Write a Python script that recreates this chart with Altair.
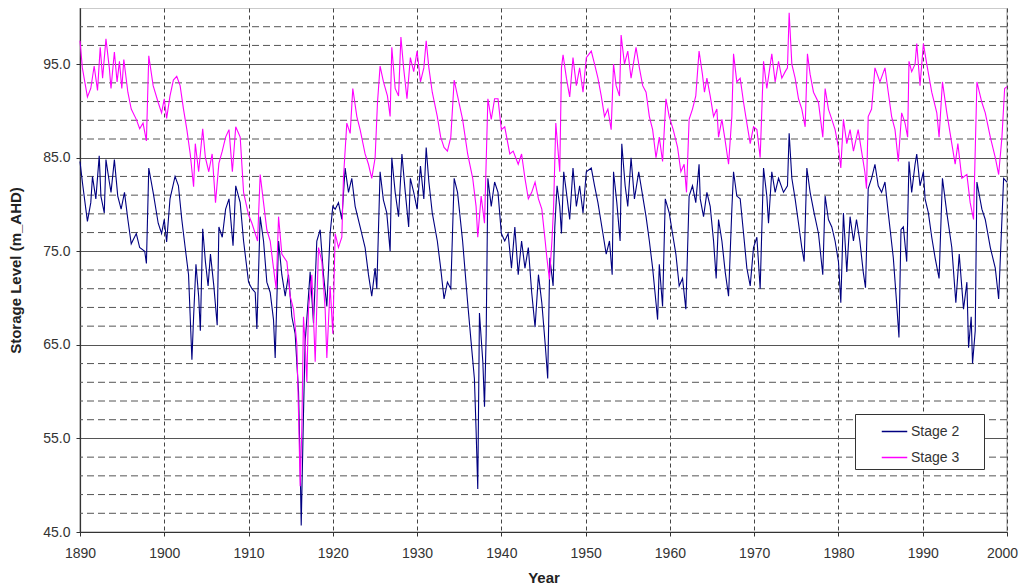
import altair as alt
import pandas as pd

# ---- data ----
s2_year = [1890.0, 1890.28, 1890.88, 1891.28, 1891.48, 1891.88, 1892.28, 1892.48, 1892.88, 1893.08,
           1893.48, 1893.68, 1894.08, 1894.48, 1894.88, 1895.28, 1895.68, 1896.08, 1896.68, 1897.08,
           1897.68, 1897.88, 1898.16, 1898.68, 1899.28, 1899.68, 1900.0, 1900.28, 1900.68, 1901.28,
           1901.68, 1902.08, 1902.48, 1902.88, 1903.28, 1903.48, 1903.76, 1904.08, 1904.28, 1904.56,
           1904.88, 1905.2, 1905.48, 1905.88, 1906.28, 1906.48, 1906.88, 1907.28, 1907.68, 1908.16,
           1908.48, 1909.01, 1909.41, 1910.0, 1910.4, 1910.79, 1910.99, 1911.38, 1911.78, 1912.17,
           1912.57, 1912.96, 1913.16, 1913.56, 1913.95, 1914.35, 1914.74, 1915.14, 1915.53, 1915.93,
           1916.13, 1916.25, 1916.52, 1916.72, 1917.0, 1917.31, 1917.71, 1918.1, 1918.5, 1918.89,
           1919.29, 1919.68, 1920.0, 1920.28, 1920.67, 1921.07, 1921.46, 1921.86, 1922.25, 1922.65,
           1923.24, 1923.83, 1924.23, 1924.62, 1925.02, 1925.22, 1925.61, 1926.0, 1926.4, 1926.8,
           1927.0, 1927.4, 1927.8, 1928.2, 1928.6, 1929.0, 1929.2, 1929.6, 1930.0, 1930.4,
           1930.8, 1931.08, 1931.4, 1931.8, 1932.4, 1932.8, 1933.2, 1933.6, 1934.0, 1934.4,
           1934.8, 1935.4, 1936.0, 1936.4, 1936.8, 1937.0, 1937.2, 1937.4, 1937.8, 1938.0,
           1938.2, 1938.4, 1938.8, 1939.2, 1939.6, 1940.0, 1940.4, 1940.8, 1941.2, 1941.6,
           1942.0, 1942.4, 1942.8, 1943.2, 1943.6, 1944.0, 1944.4, 1944.8, 1945.2, 1945.5,
           1945.75, 1946.14, 1946.34, 1946.61, 1946.93, 1947.13, 1947.4, 1947.72, 1948.11, 1948.5,
           1948.9, 1949.29, 1949.69, 1950.08, 1950.67, 1951.06, 1951.46, 1952.05, 1952.44, 1952.83,
           1953.15, 1953.31, 1953.7, 1954.09, 1954.29, 1954.69, 1955.0, 1955.39, 1955.79, 1956.3,
           1956.77, 1957.17, 1957.56, 1957.95, 1958.35, 1958.54, 1958.74, 1959.13, 1959.45, 1959.92,
           1960.31, 1960.71, 1961.1, 1961.5, 1961.89, 1962.28, 1962.68, 1963.07, 1963.46, 1963.6,
           1963.99, 1964.39, 1964.78, 1965.18, 1965.49, 1965.77, 1966.17, 1966.56, 1966.96, 1967.35,
           1967.55, 1967.94, 1968.34, 1968.74, 1969.13, 1969.53, 1969.92, 1970.32, 1970.71, 1971.11,
           1971.5, 1971.7, 1972.09, 1972.49, 1972.89, 1973.48, 1973.95, 1974.15, 1974.47, 1974.86,
           1975.26, 1975.65, 1975.93, 1976.25, 1976.64, 1977.11, 1977.63, 1978.14, 1978.42, 1978.81,
           1979.21, 1979.6, 1980.0, 1980.28, 1980.59, 1980.99, 1981.38, 1981.78, 1982.14, 1982.54,
           1982.94, 1983.21, 1983.53, 1983.93, 1984.33, 1984.72, 1985.12, 1985.52, 1985.91, 1986.51,
           1986.9, 1987.18, 1987.42, 1987.7, 1988.1, 1988.37, 1988.69, 1989.09, 1989.29, 1989.68,
           1990.08, 1990.28, 1990.67, 1991.07, 1991.47, 1991.94, 1992.34, 1992.86, 1993.45, 1993.93,
           1994.33, 1994.84, 1995.24, 1995.44, 1995.75, 1995.91, 1996.23, 1996.43, 1997.02, 1997.42,
           1998.02, 1998.61, 1999.01, 1999.33, 1999.6, 2000.0]
s2_level = [84.6, 82.4, 78.2, 80.2, 83.0, 80.6, 85.2, 80.9, 79.1, 84.8,
            82.4, 81.3, 84.8, 80.9, 79.5, 81.3, 78.4, 75.8, 76.9, 75.4,
            75.0, 73.7, 83.9, 81.3, 78.0, 76.9, 78.4, 76.0, 80.6, 83.0,
            82.0, 78.4, 75.4, 72.5, 63.4, 68.0, 73.6, 70.2, 66.5, 77.4,
            73.9, 71.3, 74.7, 71.3, 67.1, 77.6, 76.5, 79.5, 80.6, 75.6,
            82.0, 80.2, 76.1, 71.7, 71.0, 70.6, 66.7, 78.7, 76.1, 71.7,
            70.6, 67.7, 63.6, 76.1, 72.5, 70.2, 72.5, 68.0, 66.2, 60.0,
            51.9, 45.7, 57.7, 65.4, 68.8, 72.8, 67.3, 76.1, 77.3, 72.5,
            69.1, 76.9, 79.8, 79.5, 80.2, 78.4, 83.9, 81.3, 82.8, 79.8,
            77.6, 75.4, 72.5, 70.2, 73.2, 71.0, 83.5, 80.5, 79.1, 75.0,
            85.0, 81.3, 78.7, 85.4, 81.3, 77.6, 82.8, 81.3, 79.5, 84.1,
            80.6, 86.1, 82.4, 79.1, 76.1, 73.2, 69.9, 71.7, 71.0, 82.8,
            81.3, 76.1, 69.5, 65.4, 61.4, 55.9, 49.6, 68.4, 63.2, 58.4,
            66.2, 82.8, 79.8, 82.4, 81.3, 76.9, 76.1, 76.9, 73.2, 77.6,
            72.5, 76.1, 73.2, 75.4, 70.6, 66.9, 72.5, 69.5, 65.1, 61.4,
            74.3, 71.3, 77.6, 82.0, 79.8, 76.9, 83.5, 81.3, 78.4, 83.9,
            79.8, 82.0, 79.1, 83.5, 83.9, 82.0, 80.2, 76.9, 74.7, 76.1,
            72.5, 83.5, 80.2, 76.1, 86.5, 82.0, 79.8, 85.0, 80.6, 83.5,
            80.9, 78.7, 76.1, 73.2, 69.5, 67.7, 73.6, 69.1, 80.6, 79.1,
            76.9, 74.7, 71.3, 72.1, 68.8, 80.9, 82.0, 80.2, 84.3, 80.6,
            78.7, 81.3, 79.8, 76.1, 72.1, 78.4, 76.1, 72.8, 70.2, 79.5,
            83.5, 80.9, 80.6, 76.9, 73.2, 71.3, 75.4, 76.5, 71.0, 83.9,
            80.9, 78.0, 83.5, 81.3, 82.8, 81.3, 82.0, 87.6, 82.8, 80.6,
            78.0, 75.4, 73.9, 83.9, 81.3, 79.1, 76.9, 72.5, 80.9, 78.4,
            77.6, 76.1, 73.9, 69.5, 79.1, 72.8, 78.7, 76.1, 78.4, 76.1,
            72.8, 71.1, 81.7, 82.8, 84.3, 82.0, 81.3, 82.4, 79.1, 74.3,
            69.5, 65.8, 77.3, 77.6, 73.9, 84.6, 81.3, 84.3, 85.4, 82.0,
            83.5, 80.6, 79.1, 76.5, 74.3, 72.1, 82.8, 79.1, 75.4, 69.5,
            74.7, 68.8, 71.7, 64.7, 68.0, 63.0, 66.5, 82.4, 79.5, 78.4,
            75.4, 73.2, 69.9, 76.9, 82.8, 82.4]

s3_year = [1890.0, 1890.28, 1890.88, 1891.28, 1891.68, 1892.08, 1892.4, 1892.68, 1893.08, 1893.48,
           1893.68, 1894.08, 1894.4, 1894.68, 1894.96, 1895.2, 1895.68, 1896.08, 1896.68, 1897.08,
           1897.48, 1897.88, 1898.16, 1898.68, 1899.28, 1899.68, 1900.0, 1900.28, 1900.68, 1901.08,
           1901.48, 1901.88, 1902.28, 1902.68, 1903.08, 1903.48, 1903.68, 1904.08, 1904.56, 1904.88,
           1905.28, 1905.68, 1906.08, 1906.48, 1906.88, 1907.28, 1907.68, 1908.08, 1908.48, 1909.01,
           1909.41, 1910.0, 1910.4, 1910.79, 1911.07, 1911.38, 1911.78, 1912.17, 1912.57, 1912.96,
           1913.28, 1913.56, 1913.95, 1914.55, 1914.94, 1915.34, 1915.73, 1915.93, 1916.13, 1916.32,
           1916.52, 1916.72, 1916.92, 1917.11, 1917.51, 1917.91, 1918.3, 1918.7, 1919.09, 1919.29,
           1919.68, 1920.0, 1920.28, 1920.67, 1921.07, 1921.26, 1921.66, 1922.06, 1922.37, 1922.85,
           1923.24, 1923.83, 1924.23, 1924.62, 1925.02, 1925.3, 1925.61, 1926.01, 1926.48, 1926.8,
           1927.0, 1927.4, 1927.8, 1928.08, 1928.4, 1928.8, 1929.2, 1929.6, 1930.0, 1930.4,
           1930.8, 1931.08, 1931.4, 1931.8, 1932.4, 1932.8, 1933.2, 1933.6, 1934.0, 1934.4,
           1934.8, 1935.4, 1936.0, 1936.6, 1937.0, 1937.2, 1937.6, 1938.0, 1938.4, 1938.8,
           1939.2, 1939.6, 1940.0, 1940.4, 1941.0, 1941.4, 1942.0, 1942.4, 1942.8, 1943.2,
           1943.6, 1944.0, 1944.4, 1944.8, 1945.2, 1945.4, 1945.7, 1946.0, 1946.2, 1946.46,
           1946.73, 1946.93, 1947.13, 1947.32, 1947.72, 1948.11, 1948.5, 1948.9, 1949.29, 1949.69,
           1950.08, 1950.67, 1951.06, 1951.46, 1951.85, 1952.24, 1952.64, 1953.03, 1953.31, 1953.62,
           1954.02, 1954.21, 1954.61, 1955.0, 1955.39, 1955.98, 1956.38, 1956.77, 1957.17, 1957.56,
           1957.95, 1958.35, 1958.74, 1959.13, 1959.53, 1959.92, 1960.39, 1960.91, 1961.3, 1961.69,
           1961.97, 1962.28, 1962.68, 1963.07, 1963.46, 1963.86, 1964.1, 1964.39, 1964.78, 1965.18,
           1965.57, 1965.77, 1966.17, 1966.56, 1966.96, 1967.35, 1967.55, 1967.94, 1968.34, 1968.74,
           1969.13, 1969.53, 1969.92, 1970.32, 1970.71, 1971.11, 1971.5, 1972.09, 1972.49, 1972.89,
           1973.28, 1973.68, 1973.95, 1974.15, 1974.47, 1974.86, 1975.26, 1975.65, 1976.05, 1976.32,
           1976.64, 1977.04, 1977.63, 1978.14, 1978.42, 1978.81, 1979.21, 1979.6, 1980.0, 1980.28,
           1980.59, 1980.99, 1981.38, 1981.78, 1982.34, 1982.74, 1983.13, 1983.33, 1983.53, 1983.93,
           1984.33, 1984.92, 1985.52, 1985.91, 1986.31, 1986.71, 1987.1, 1987.5, 1987.9, 1988.21,
           1988.37, 1988.69, 1989.09, 1989.29, 1989.68, 1990.08, 1990.48, 1991.07, 1991.67, 1991.94,
           1992.34, 1992.86, 1993.45, 1993.85, 1994.17, 1994.64, 1995.24, 1995.63, 1996.03, 1996.43,
           1997.02, 1997.42, 1998.02, 1998.61, 1999.01, 1999.4, 1999.72, 2000.0]
s3_level = [97.5, 94.6, 91.5, 92.4, 94.8, 92.2, 96.8, 93.5, 97.7, 94.6,
            92.4, 96.3, 93.1, 95.3, 92.4, 95.5, 92.0, 90.2, 89.1, 88.1,
            88.7, 86.8, 95.9, 92.7, 90.9, 89.8, 91.3, 89.2, 91.6, 93.3,
            93.7, 92.7, 90.2, 88.0, 85.4, 81.9, 86.5, 83.5, 88.1, 85.0,
            83.5, 85.4, 80.2, 84.4, 85.7, 87.2, 88.0, 83.5, 88.3, 87.2,
            81.3, 78.9, 78.0, 76.9, 76.1, 83.2, 80.2, 77.3, 76.1, 73.2,
            71.0, 78.7, 74.7, 73.9, 70.2, 68.8, 65.1, 57.7, 49.9, 55.9,
            68.0, 65.1, 61.0, 68.8, 72.5, 63.2, 75.4, 73.9, 68.8, 63.6,
            71.3, 66.2, 76.9, 75.4, 76.5, 82.8, 88.7, 87.6, 92.4, 89.4,
            88.0, 85.4, 84.3, 82.8, 85.0, 90.9, 94.8, 93.1, 91.6, 89.4,
            96.8, 92.4, 91.6, 97.9, 94.6, 91.3, 95.7, 94.2, 96.4, 93.1,
            94.6, 97.5, 94.6, 92.0, 89.4, 87.2, 86.1, 85.7, 87.2, 93.3,
            91.6, 89.1, 85.4, 82.8, 79.8, 76.5, 80.9, 78.0, 91.3, 89.1,
            91.3, 91.3, 88.0, 88.3, 85.4, 85.7, 84.3, 85.4, 82.8, 80.6,
            81.3, 82.4, 80.6, 79.5, 76.1, 74.3, 72.0, 76.1, 79.8, 88.7,
            85.7, 83.5, 94.6, 96.0, 93.5, 91.5, 95.7, 92.7, 94.6, 92.0,
            95.7, 96.4, 95.0, 93.5, 91.6, 89.4, 90.2, 88.0, 95.0, 92.7,
            91.6, 98.1, 95.0, 96.4, 93.5, 96.8, 94.6, 92.7, 92.0, 89.4,
            88.0, 85.0, 87.2, 84.6, 91.3, 89.4, 88.0, 86.1, 83.5, 84.3,
            81.3, 89.1, 90.2, 91.6, 96.4, 93.9, 92.0, 93.5, 91.6, 89.4,
            90.2, 87.2, 89.1, 86.8, 84.3, 89.4, 96.1, 93.1, 93.5, 90.9,
            88.7, 86.5, 88.3, 88.0, 85.0, 95.3, 92.4, 96.1, 93.1, 95.3,
            93.5, 94.2, 94.6, 100.5, 95.0, 93.5, 91.3, 90.2, 88.3, 96.1,
            93.9, 92.0, 90.9, 87.2, 92.4, 90.2, 89.1, 88.0, 86.1, 83.9,
            89.1, 86.5, 88.0, 85.7, 88.0, 85.7, 83.5, 81.7, 89.4, 90.2,
            94.6, 93.1, 94.6, 92.0, 89.4, 88.0, 84.6, 89.8, 88.7, 87.2,
            95.3, 94.2, 95.0, 97.2, 92.7, 97.2, 95.0, 92.0, 89.8, 87.2,
            93.1, 89.8, 86.5, 84.3, 86.5, 82.8, 83.2, 80.2, 78.4, 93.1,
            90.9, 89.8, 87.2, 85.0, 83.2, 87.2, 92.4, 92.6]

series_names = ["Stage 2", "Stage 3"]
series_colors = ["#000080", "#ff00ff"]
x_ticks = list(range(1890, 2001, 10))
y_major = [45, 55, 65, 75, 85, 95]
y_minor = [47, 49, 51, 53, 57, 59, 61, 63, 67, 69, 71, 73, 77, 79, 81, 83,
           87, 89, 91, 93, 97, 99]

df = pd.concat([
    pd.DataFrame({"Year": s2_year, "Level": s2_level, "Series": series_names[0]}),
    pd.DataFrame({"Year": s3_year, "Level": s3_level, "Series": series_names[1]}),
])
minor_df = pd.DataFrame({"Level": y_minor})

FONT = "Liberation Sans, Arial, sans-serif"

x_scale = alt.Scale(domain=[1890, 2000], nice=False, zero=False)
y_scale = alt.Scale(domain=[45, 101], nice=False, zero=False)

minor = alt.Chart(minor_df).mark_rule(
    color="#555555", strokeWidth=1, strokeDash=[7, 4]
).encode(y=alt.Y("Level:Q", scale=y_scale))

lines = alt.Chart(df).mark_line(strokeWidth=1.1).encode(
    x=alt.X("Year:Q", scale=x_scale,
            axis=alt.Axis(values=x_ticks, format="d", title="Year",
                          grid=True, gridDash=[4, 3], gridColor="#444444", gridWidth=1,
                          titleY=50, titleBaseline="alphabetic",
                          labelPadding=10, labelFlush=False,
                          labelOffset={"condition": {"test": "datum.value == 2000", "value": -5},
                                       "value": 0})),
    y=alt.Y("Level:Q", scale=y_scale,
            axis=alt.Axis(values=y_major, format=".1f", title="Storage Level (m_AHD)",
                          grid=True, gridColor="#555555", gridWidth=1,
                          titleX=-60, titleY=262, titleAngle=-90, titleAlign="center",
                          titleBaseline="alphabetic", labelPadding=6, labelFlush=False)),
    color=alt.Color("Series:N",
                    scale=alt.Scale(domain=series_names, range=series_colors),
                    legend=alt.Legend(title=None, orient="none", legendX=775, legendY=406,
                                      direction="vertical", symbolType="stroke",
                                      symbolSize=650, symbolStrokeWidth=1.5,
                                      labelFontSize=14, labelColor="#333333", labelFont=FONT,
                                      strokeColor="#333333", fillColor="white",
                                      padding=4, symbolOffset=22, labelOffset=3, rowPadding=5,
                                      labelExpr="datum.label + '\u2800\u2800'")),
    order=alt.Order("Year:Q"),
)

chart = alt.layer(minor, lines).properties(
    width=927, height=524,
    autosize=alt.AutoSizeParams(type="none"),
    padding={"left": 72, "top": 0, "right": 12, "bottom": 55},
).configure_view(
    stroke="#bbbbbb", strokeWidth=1.5
).configure_axis(
    labelFont=FONT, titleFont=FONT, labelFontSize=14, titleFontSize=15,
    labelColor="#333333", titleColor="#222222", titleFontWeight="bold",
    tickSize=4, tickColor="#333333", domainColor="#333333", domainWidth=1.2,
)

chart.save("out.html", embed_options={"renderer": "svg", "actions": False})
